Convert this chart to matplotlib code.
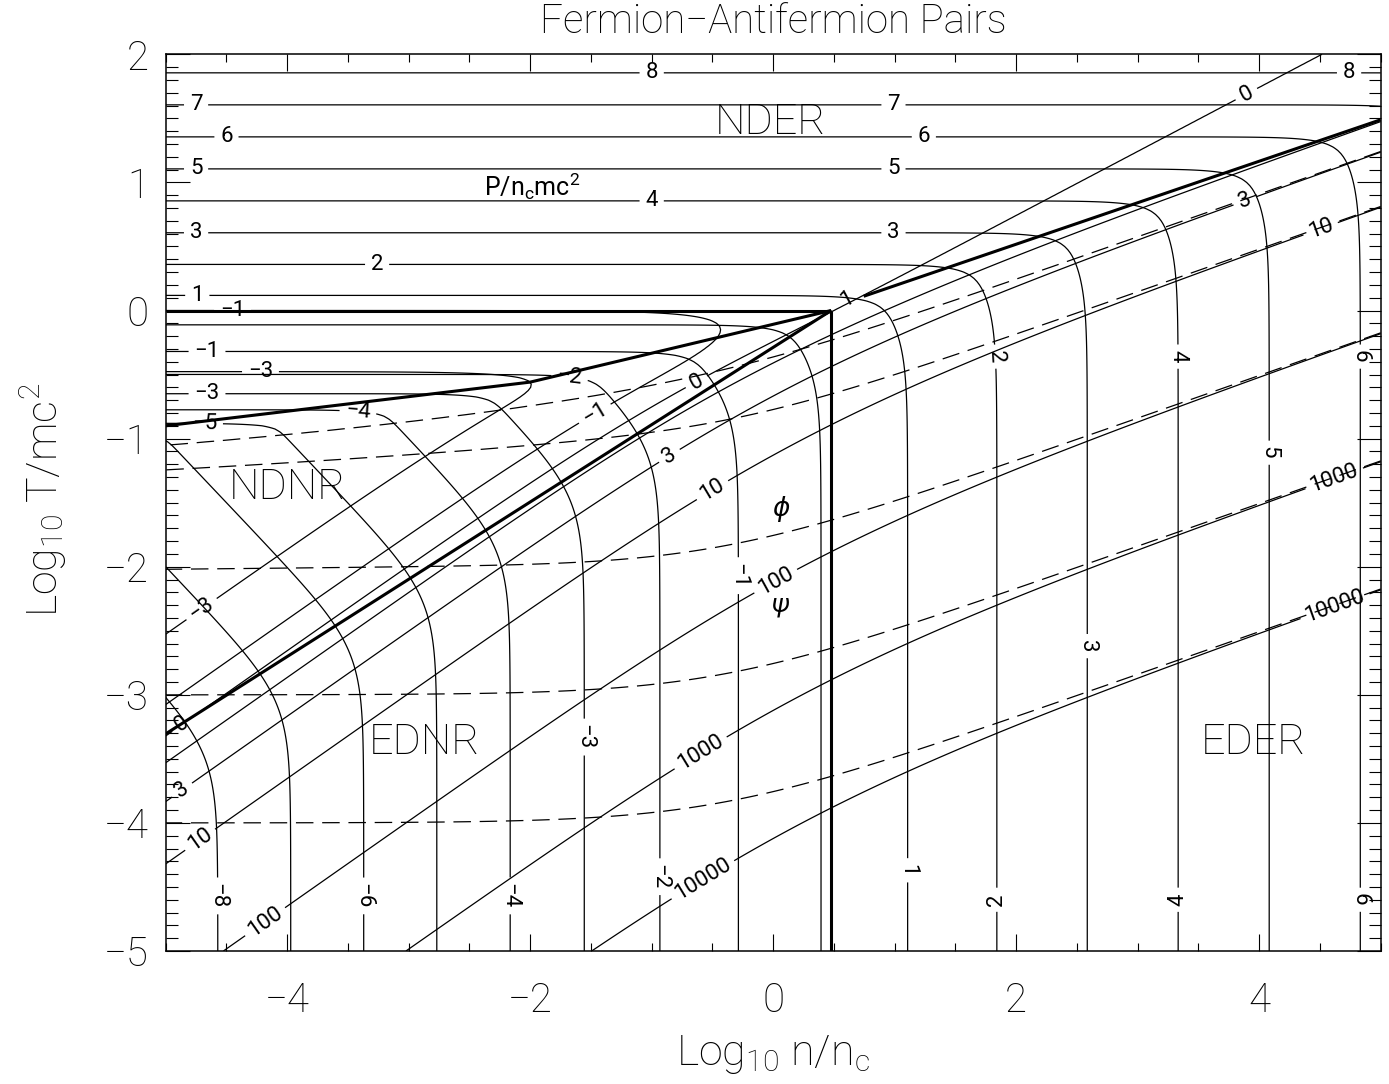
import numpy as np
import matplotlib
matplotlib.use("Agg")
import matplotlib.pyplot as plt

plt.rcParams["font.family"] = ["Roboto", "DejaVu Sans"]
plt.rcParams["font.weight"] = "light"
plt.rcParams["axes.labelweight"] = "light"
plt.rcParams["mathtext.fontset"] = "custom"
plt.rcParams["mathtext.rm"] = "Roboto:light"
plt.rcParams["mathtext.it"] = "Roboto:italic:light"
plt.rcParams["contour.negative_linestyle"] = "solid"

# contour levels
p_levels = list(range(-8, 9))                       # log10 P/(n_c mc^2)
psi_levels = [-3, -1, 0, 1, 3, 10, 100, 1000, 10000]  # (mu - mc^2)/T
phi_levels = [3, 10, 100, 1000, 10000]              # mu/T

# where the contour labels sit, (log n/n_c, log T/mc^2)
p_label_pos = [(-1.0, 1.86), (4.74, 1.86), (-4.75, 1.6), (0.99, 1.6),
               (-4.5, 1.35), (1.24, 1.35), (-4.75, 1.1), (0.99, 1.1),
               (-1.0, 0.86), (-4.75, 0.61), (0.99, 0.61), (-3.26, 0.36),
               (-4.74, 0.12), (-4.66, -0.30), (-0.27, -2.07), (-1.67, -0.48),
               (-0.94, -4.42), (-4.66, -0.62), (-1.54, -3.33), (-3.42, -0.82),
               (-2.17, -4.57), (-4.68, -0.875), (-3.37, -4.57), (-4.56, -4.57),
               (0.97, -4.37), (1.83, -4.6), (1.83, -0.36), (2.58, -2.62),
               (3.31, -4.6), (3.33, -0.36), (4.09, -1.11), (4.81, -4.6),
               (4.81, -0.36)]
psi_label_pos = [(-4.72, -2.31), (-4.22, -0.447), (-4.45, 0.0), (-1.49, -0.77),
                 (-4.88, -3.21), (-0.65, -0.525), (3.86, 1.75),
                 (-0.87, -1.11), (3.87, 0.89), (-4.89, -3.71),
                 (-0.52, -1.37), (4.49, 0.68), (-4.74, -4.10),
                 (-0.01, -2.06), (-4.22, -4.72),
                 (-0.625, -3.41), (4.61, -1.29),
                 (-0.6, -4.41), (4.61, -2.27)]

# regime boundaries
bound_t1 = ([-5.0, 0.477], [0.0, 0.0])
bound_deg = ([0.477, 0.477], [-5.0, 0.0])
bound_nr = ([-5.0, 0.477], [-3.305, 0.0])
bound_pair = ([-5.0, -2.0, 0.477], [-0.90, -0.559, 0.0])
bound_er = ([0.745, 5.0], [0.111, 1.489])
bound_er_label = "1"

region_names = ["NDER", "NDNR", "EDNR", "EDER"]
region_xy = [(-0.02, 1.47), (-4.0, -1.38), (-2.87, -3.37), (3.95, -3.37)]

gx, gw = np.polynomial.legendre.leggauss(40)


def nodes(a, b):
    h = 0.5 * (b - a)
    p = (0.5 * (a + b))[:, None] + h[:, None] * gx[None, :]
    return p, h[:, None] * gw[None, :]


def pair_gas(T, mu):
    # net density in n_c = (mc/hbar)^3/pi^2 and pressure in n_c mc^2
    phi = mu / T
    ea = np.maximum(1.0, mu - 20 * T)
    eb = np.maximum(mu, 1.0) + 40 * T
    pa = np.sqrt(ea * ea - 1)
    pb = np.sqrt(eb * eb - 1)
    # deep Fermi sea, electrons only
    p, w = nodes(np.zeros_like(pa), pa)
    E = np.sqrt(1 + p * p)
    f = np.exp(-np.logaddexp(0, (E - mu[:, None]) / T))
    n = np.sum(w * p * p * f, 1)
    P = np.sum(w * p ** 4 / E * f, 1)
    # Fermi edge and thermal tail, electrons and positrons
    p, w = nodes(pa, pb)
    E = np.sqrt(1 + p * p)
    x = E / T
    ph = phi[:, None]
    with np.errstate(over="ignore"):
        d = -np.expm1(-2 * ph) / (np.exp(x - ph) + np.exp(-x - ph) + 1 + np.exp(-2 * ph))
    fs = np.exp(-np.logaddexp(0, x - ph)) + np.exp(-np.logaddexp(0, x + ph))
    n += np.sum(w * p * p * d, 1)
    P += np.sum(w * p ** 4 / E * fs, 1)
    return n, P / 3


log_n = np.linspace(-5, 5, 401)
log_t = np.linspace(-5, 2, 281)
LP = np.full((log_t.size, log_n.size), np.nan)
PS = np.full_like(LP, np.nan)
PH = np.full_like(LP, np.nan)
for i, lt in enumerate(log_t):
    T = 10.0 ** lt
    s = np.linspace(np.arcsinh(max(-1 / T, -80.0)), np.arcsinh(299 / T), 2000)
    mu = np.concatenate([1 + T * np.sinh(s), np.geomspace(1e-11, 300, 700)])
    mu = np.unique(mu[mu > 1e-11])
    n, P = pair_gas(T, mu)
    ok = n > 0
    mu, n, P = mu[ok], n[ok], P[ok]
    xn = np.maximum.accumulate(np.log10(n))
    LP[i] = np.interp(log_n, xn, np.log10(P))
    PS[i] = np.interp(log_n, xn, np.arcsinh((mu - 1) / T))
    PH[i] = np.interp(log_n, xn, np.log10(mu)) - lt

fig = plt.figure(figsize=(13.89, 10.84), dpi=100)
ax = fig.add_axes([0.1193, 0.1227, 0.8747, 0.8272])
ax.set_xlim(-5, 5)
ax.set_ylim(-5, 2)

lw = 0.9
cs_p = ax.contour(log_n, log_t, LP, levels=p_levels, colors="k", linewidths=lw)
cs_psi = ax.contour(log_n, log_t, PS, levels=np.arcsinh(psi_levels), colors="k",
                    linewidths=lw)
cs_phi = ax.contour(log_n, log_t, PH, levels=np.log10(phi_levels), colors="k",
                    linewidths=lw)
cs_phi.set_linestyle((0, (14, 7)))

labels = ax.clabel(cs_p, fmt=lambda v: f"{int(round(v))}".replace("-", "\u2212"),
                   manual=p_label_pos, fontsize=16, inline=True, inline_spacing=6,
                   colors="k")
labels += ax.clabel(cs_psi,
                    fmt=lambda v: f"{int(round(np.sinh(v)))}".replace("-", "\u2212"),
                    manual=psi_label_pos, fontsize=16, inline=True, inline_spacing=6,
                    colors="k")
for t in labels:
    t.set_fontweight("normal")

for bx, by in (bound_t1, bound_deg, bound_nr, bound_pair, bound_er):
    ax.plot(bx, by, color="k", lw=2.2, solid_capstyle="butt")
ax.text(0.61, 0.085, bound_er_label, fontsize=16, rotation=28, ha="center",
        va="center", fontweight="normal")

for name, (x, y) in zip(region_names, region_xy):
    ax.text(x, y, name, fontsize=31, ha="center", va="center")

ax.text(-2.38, 0.896, r"$\mathregular{P/n_c mc^2}$", fontsize=18, ha="left",
        va="baseline", fontweight="normal")
ax.text(0.06, -1.55, "\u03d5", fontsize=19, ha="center", va="center",
        style="italic", fontweight="normal")
ax.text(0.06, -2.30, "\u03c8", fontsize=19, ha="center", va="center",
        style="italic", fontweight="normal")

ax.set_xticks([-4, -2, 0, 2, 4])
ax.set_xticks(np.arange(-5, 5.01, 0.5), minor=True)
ax.set_yticks(range(-5, 3))
ax.set_yticks(np.arange(-5, 2.001, 0.1), minor=True)
ax.tick_params(which="both", direction="in", top=True, right=True, width=0.8,
               labelsize=29)
ax.tick_params(axis="x", which="major", length=12, pad=22)
ax.tick_params(axis="x", which="minor", length=6)
ax.tick_params(axis="y", which="major", length=17, pad=12)
ax.tick_params(axis="y", which="minor", length=8.5)
for sp in ax.spines.values():
    sp.set_linewidth(1.1)

ax.set_xlabel(r"Log$_{10}$ n/n$_{\rm c}$", fontsize=31)
ax.set_ylabel(r"Log$_{10}$ T/mc$^2$", fontsize=31)
ax.xaxis.set_label_coords(0.5, -0.0915)
ax.yaxis.set_label_coords(-0.080, 0.503)
ax.text(0.5, 1.036, "Fermion\u2212Antifermion Pairs", transform=ax.transAxes,
        fontsize=29, ha="center", va="center")

fig.savefig("out.png", dpi=100)
